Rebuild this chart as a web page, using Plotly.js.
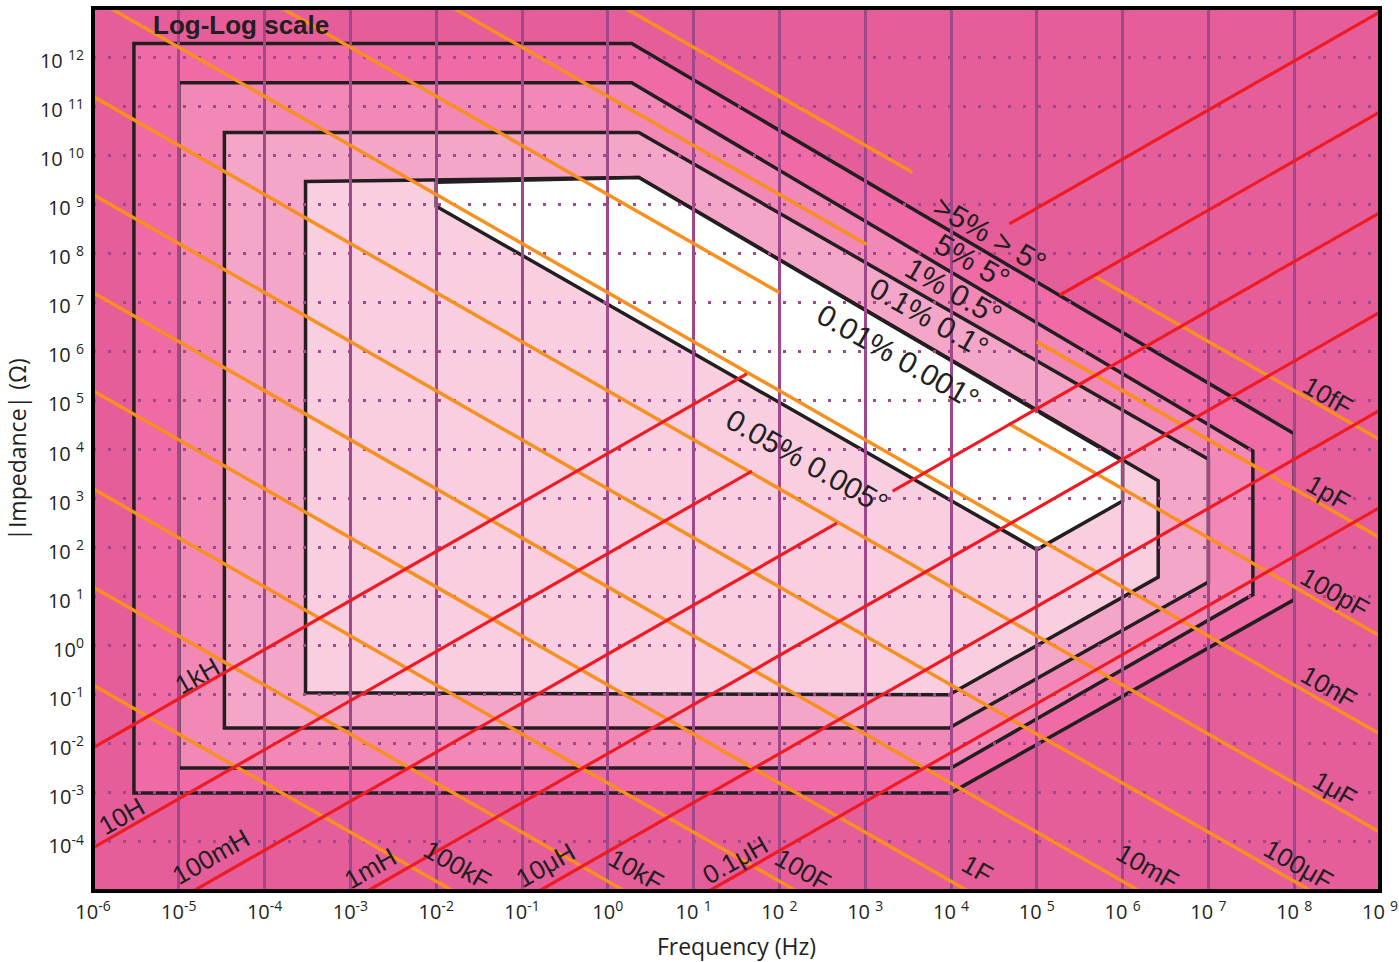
<!DOCTYPE html>
<html>
<head>
<meta charset="utf-8">
<script src="https://cdn.plot.ly/plotly-3.0.1.min.js"></script>
<style>
html,body{margin:0;padding:0;background:#ffffff;}
#chart{width:1399px;height:962px;}
</style>
</head>
<body>
<div id="chart"></div>
<script>
// ================= DATA =================
// Axis decades
const xExponents = [-6,-5,-4,-3,-2,-1,0,1,2,3,4,5,6,7,8,9];
const yExponents = [-4,-3,-2,-1,0,1,2,3,4,5,6,7,8,9,10,11,12];

// Accuracy regions (outer to inner): vertices as frequency (Hz) / impedance (ohm)
const regionNames = ["5% 5°", "1% 0.5°", "0.1% 0.1°", "0.05% 0.005°", "0.01% 0.001°"];
const regionFreq = [
  [3e-6, 1.9, 1e8, 1e8, 1e4, 3e-6],
  [1e-5, 1.9, 3.3e7, 3.3e7, 1e4, 1e-5],
  [3.4e-5, 2.3, 1e7, 1e7, 9.5e3, 3.4e-5],
  [3.0e-4, 2.3, 2.6e6, 2.6e6, 9.5e3, 3.0e-4],
  [0.01, 2.3, 1e6, 1e6, 1e5, 0.01]
];
const regionImp = [
  [1.9e12, 1.9e12, 2.1e4, 8.7, 1e-3, 1e-3],
  [3.0e11, 3.0e11, 9.3e3, 11, 3.2e-3, 3.2e-3],
  [2.9e10, 2.9e10, 6.3e3, 20, 0.021, 0.021],
  [2.9e9, 3.5e9, 2.3e3, 25, 0.10, 0.11],
  [2.8e9, 3.5e9, 5.8e3, 890, 91, 9.1e8]
];
const outerRegionName = ">5% > 5°";

// Capacitance lines (orange), visible segments (null = gap)
const capLabels = ["100kF","10kF","100F","1F","10mF","100μF","1μF","10nF","100pF","1pF","10fF"];
const capFreq = [
  [1e-6, 0.0158],
  [1e-6, 1.58],
  [1e-6, 158],
  [1e-6, 1.58e4],
  [1e-6, 1.58e6],
  [1e-6, 1.58e8],
  [1e-6, 1e9],
  [1.58e-6, 1e9],
  [1.58e-4, 100, null, 4.68e4, 1e9],
  [0.0158, 1047, null, 1e5, 1e9],
  [1.58, 3548, null, 4.47e5, 1e9]
];
const capImp = [
  [0.158, 1e-5],
  [15.8, 1e-5],
  [1585, 1e-5],
  [1.58e5, 1e-5],
  [1.58e7, 1e-5],
  [1.58e9, 1e-5],
  [1.58e11, 1.58e-4],
  [1e13, 0.0158],
  [1e13, 1.58e7, null, 3.39e4, 1.58],
  [1e13, 1.51e8, null, 1.58e6, 158],
  [1e13, 4.47e9, null, 3.55e7, 1.58e4]
];

// Inductance lines (red), visible segments (null = gap)
const indLabels = ["1kH","10H","100mH","1mH","10μH","0.1μH"];
const indFreq = [
  [1e-6, 41.7, null, 4.79e4, 1e9],
  [1e-6, 47.9, null, 1.86e5, 1e9],
  [1.48e-5, 468, null, 2089, 1e9],
  [1.58e-3, 1e9],
  [0.158, 1e9],
  [15.1, 1e9]
];
const indImp = [
  [8.32e-3, 3.47e5, null, 3.98e8, 8.32e12],
  [7.59e-5, 3.63e3, null, 1.41e7, 7.59e10],
  [1e-5, 316, null, 1413, 6.76e8],
  [1e-5, 6.31e6],
  [1e-5, 6.31e4],
  [1e-5, 661]
];

// ================= STYLE / LAYOUT =================
const C = {
  outer: '#e55e9a',
  fills: ['#f06ba6', '#f188b5', '#f4a6c8', '#f9cee0', '#ffffff'],
  grid: '#a0488c',
  edge: '#231f20',
  orange: '#f7901e',
  red: '#ed1c24',
  text: '#231f20'
};
const SLOPE_ANGLE = 29.75;   // on-screen angle of the reactance lines

// label positions in log10 units (annotation coordinates on log axes)
const capLabelPos = [[-1.76,-4.48],[0.325,-4.58],[2.27,-4.58],[4.30,-4.56],[6.29,-4.52],[8.05,-4.48],[8.47,-2.93],[8.40,-0.85],[8.48,1.08],[8.40,3.12],[8.39,5.10]];
const indLabelPos = [[-4.79,-0.61],[-5.66,-3.48],[-4.63,-4.30],[-2.76,-4.54],[-0.725,-4.46],[1.48,-4.36]];
const regionLabelPos = [[4.25,7.83],[4.03,7.22],[3.74,6.69],[2.32,3.76],[3.38,5.90]];
const outerLabelPos = [4.45,8.38];

function pathFrom(fs, zs){
  return fs.map((f,i)=> (i ? 'L' : 'M') + f + ',' + zs[i]).join(' ') + ' Z';
}

const shapes = [];
regionFreq.forEach((fs, i) => {
  shapes.push({
    type: 'path', xref: 'x', yref: 'y', layer: 'below',
    path: pathFrom(fs, regionImp[i]),
    fillcolor: C.fills[i],
    line: {color: C.edge, width: 3.5}
  });
});
// frame
shapes.push({type:'rect', xref:'paper', yref:'paper', x0:0, x1:1, y0:0, y1:1, layer:'above',
  line:{color:'#000000', width:4}, fillcolor:'rgba(0,0,0,0)'});

const traces = [];
// white region hides the 10^5 grid line in the reference
traces.push({x:[1e5,1e5], y:[107, 5.5e4], mode:'lines', line:{color:'#ffffff', width:4},
  hoverinfo:'skip', showlegend:false});
capFreq.forEach((fs, i) => {
  traces.push({x: fs, y: capImp[i], mode:'lines', name: capLabels[i], connectgaps:false,
    line:{color: C.orange, width: 3.5}, hoverinfo:'skip', showlegend:false});
});
indFreq.forEach((fs, i) => {
  traces.push({x: fs, y: indImp[i], mode:'lines', name: indLabels[i], connectgaps:false,
    line:{color: C.red, width: 3.2}, hoverinfo:'skip', showlegend:false});
});

const annotations = [];
const lblFont = (s) => ({family:'Liberation Sans, Arial, sans-serif', size:s, color:C.text});
capLabels.forEach((t,i) => annotations.push({text:t, x:capLabelPos[i][0], y:capLabelPos[i][1],
  xref:'x', yref:'y', showarrow:false, textangle:SLOPE_ANGLE, font:lblFont(26), xanchor:'center', yanchor:'middle'}));
indLabels.forEach((t,i) => annotations.push({text:t, x:indLabelPos[i][0], y:indLabelPos[i][1],
  xref:'x', yref:'y', showarrow:false, textangle:-SLOPE_ANGLE, font:lblFont(26), xanchor:'center', yanchor:'middle'}));
regionNames.forEach((t,i) => annotations.push({text:t, x:regionLabelPos[i][0], y:regionLabelPos[i][1],
  xref:'x', yref:'y', showarrow:false, textangle:SLOPE_ANGLE, font:lblFont(30), xanchor:'center', yanchor:'middle'}));
annotations.push({text:outerRegionName, x:outerLabelPos[0], y:outerLabelPos[1], xref:'x', yref:'y',
  showarrow:false, textangle:SLOPE_ANGLE, font:lblFont(30), xanchor:'center', yanchor:'middle'});
annotations.push({text:'<b>Log-Log scale</b>', x:-4.279, y:12.646, xref:'x', yref:'y', showarrow:false,
  font:lblFont(26), xanchor:'center', yanchor:'middle'});

const tickText = e => e > 0 ? '10 <sup>' + e + '</sup>' : '10<sup>' + e + '</sup>';
const axisFont = {family:'Open Sans, sans-serif', size:20, color:C.text};

const layout = {
  width: 1399, height: 962,
  margin: {l:93, r:19, t:8, b:71, pad:0},
  paper_bgcolor: '#ffffff',
  plot_bgcolor: C.outer,
  showlegend: false,
  hovermode: false,
  xaxis: {
    type:'log', range:[-6, 9], fixedrange:true,
    tickmode:'array', tickvals: xExponents.map(e => Math.pow(10, e)), ticktext: xExponents.map(tickText),
    showgrid:true, gridcolor:C.grid, gridwidth:3, zeroline:false, showline:false, ticks:'',
    ticklabelstandoff: 7,
    tickfont: axisFont, automargin:false,
    title:{text:'Frequency (Hz)', font:{family:'Open Sans, sans-serif', size:23, color:C.text}, standoff:14}
  },
  yaxis: {
    type:'log', range:[-5, 13], fixedrange:true,
    tickmode:'array', tickvals: yExponents.map(e => Math.pow(10, e)), ticktext: yExponents.map(tickText),
    showgrid:true, gridcolor:C.grid, gridwidth:3, griddash:'3px,12px', zeroline:false, showline:false, ticks:'',
    ticklabelstandoff: 8, ticklabelshift: 4,
    tickfont: axisFont, automargin:false,
    title:{text:'|Impedance| (Ω)', font:{family:'Open Sans, sans-serif', size:23, color:C.text}, standoff:6}
  },
  shapes: shapes,
  annotations: annotations
};

Plotly.newPlot('chart', traces, layout, {staticPlot:true, displayModeBar:false});
</script>
</body>
</html>
